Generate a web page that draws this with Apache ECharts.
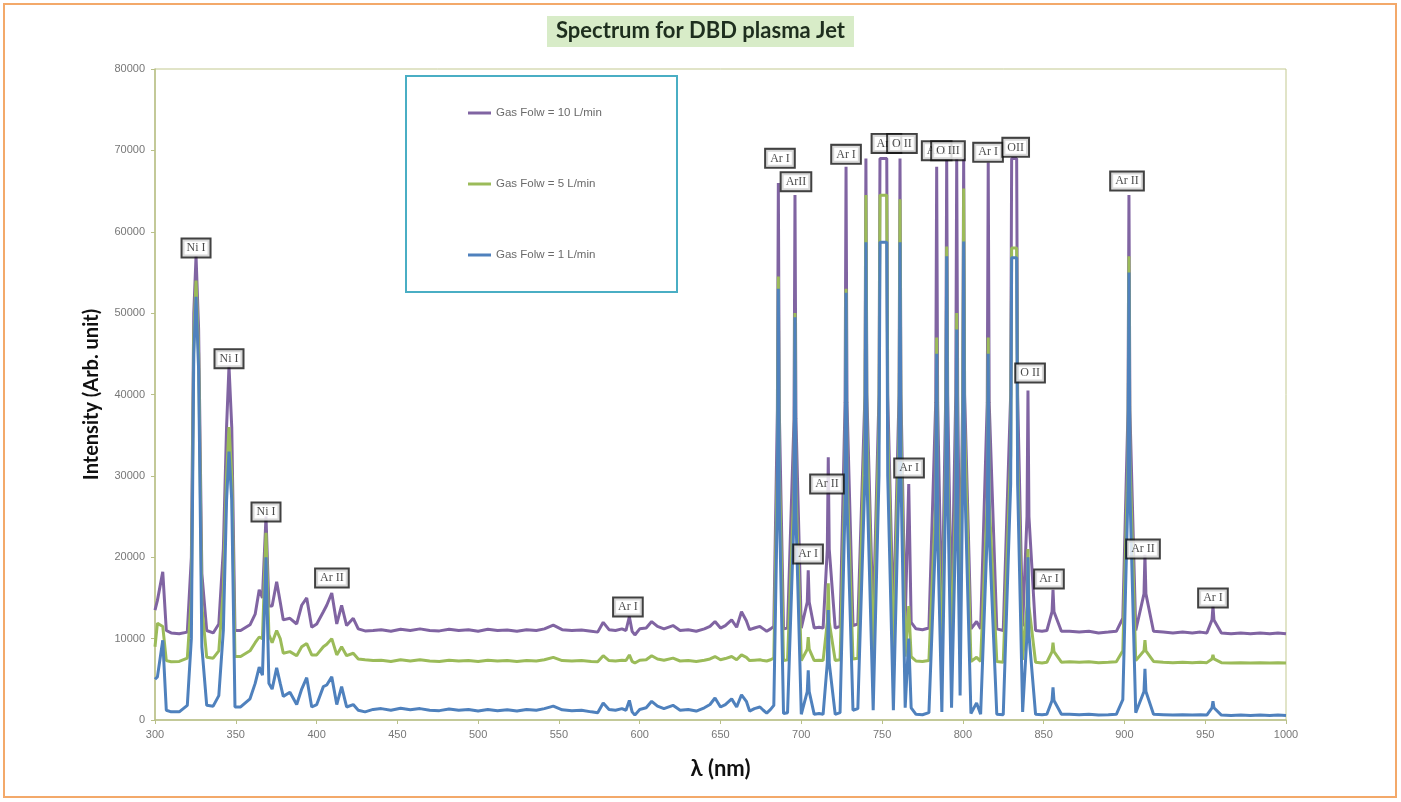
<!DOCTYPE html>
<html>
<head>
<meta charset="utf-8">
<script src="https://cdn.jsdelivr.net/npm/echarts@6/dist/echarts.min.js"></script>
<style>html,body{margin:0;padding:0;background:#fff;}#c{width:1401px;height:802px;}</style>
</head>
<body>
<div id="c"></div>
<script>
// Wavelength samples (nm)
const wl = [
300,301.5,304.8,307,310,315,320,322.5,324,325.4,327,329,332,336,339.5,342.3,344.3,345.8,347.5,349.5,353,358.8,362,364.5,366.5,368.7,370.5,372.5,375.3,377.5,379.4,383.5,387.7,390.8,393.9,397,400.1,404.2,406.3,409.4,412.5,415.5,418.6,422.7,425.8,430,
435,440,446,452,458,464,470,476,482,488,494,500,506,512,518,524,530,536,541,546.5,552,558,564,570,574,577.4,581,585,589,591.5,593.6,595.3,597,600,604,607.4,611,615,620.6,625,630,635,640,643.5,646.6,650,653,656.9,660,663,666,668,671,674.4,676.5,678.6,681,
683,685.2,685.8,686.4,689,691.5,695.5,696.1,696.7,700,703.7,704.3,704.9,708,711,713.5,716.1,716.7,717.3,721,724,727.1,727.7,728.3,732,735,739.4,740,740.6,744.5,748.1,748.7,752.9,753.5,757,760.5,761.1,761.7,764.3,766.5,768,771,775,779,783.2,783.8,784.4,787,789.4,790,790.6,793,795.6,796.2,796.8,798.3,799.9,800.5,801.1,805,808.5,811,815.1,815.7,816.3,821,825,829.6,830.2,833.3,833.9,837,839.7,840.3,840.9,845,849,852,855.2,855.8,856.4,861,
866,872,878,884,890,895,899,902.2,902.8,903.4,907,912.1,912.7,913.3,918,924,930,936,942,947,951,954.2,954.8,955.4,960,966,972,978,984,990,995,1000
];
// Gas flow = 10 L/min
const flow10 = [
13500,14700,18200,11000,10700,10600,10800,20000,50000,57000,48000,18000,11000,10700,11800,21000,36000,43500,36000,11000,11000,11700,13000,16000,15000,25000,14000,14000,17000,14500,12300,12500,11800,14100,15000,11400,11800,13300,14100,15600,11800,14100,11600,12500,11200,10950,
11000,11100,10900,11150,11000,11200,11000,10950,11150,11000,11100,10900,11150,11000,11050,10900,11100,11000,11200,11650,11100,11000,11050,10900,10800,12000,11100,11000,11200,11000,12700,10900,10450,11200,11300,12100,11500,11200,11600,11000,11100,10900,11200,11500,12100,11300,11600,12300,11400,13300,12200,11100,11300,11500,11200,10900,11200,
11500,38000,66000,38000,11200,11300,37000,64500,37000,11300,14500,18400,14500,11300,11400,11300,21000,32300,21000,11300,11500,39000,68000,39000,11600,11800,40000,69000,40000,11800,40000,69000,69000,40000,11800,40000,69000,40000,12000,29000,12000,11200,11100,11300,39000,68000,39000,11500,40000,69000,40000,12000,40000,69000,40000,14000,40000,69000,40000,11200,12100,11200,39000,68500,39000,11200,11000,40000,69000,69000,40000,11500,25000,40500,25000,11000,10900,11000,13300,16000,13300,10900,
10900,10800,10900,10700,10800,10900,12500,38000,64500,38000,11000,15500,20300,15500,10900,10800,10700,10800,10700,10800,10700,12300,14000,12300,10700,10600,10700,10600,10700,10600,10700,10600
];
// Gas flow = 5 L/min
const flow5 = [
9000,11900,11500,7300,7160,7200,7600,15000,47000,54000,45000,14000,7700,7600,8500,16000,30000,36000,30000,7800,7800,8500,9500,10200,10000,23000,10500,9500,11000,10000,8200,8400,7900,9000,9400,8000,8000,9000,9300,10000,8000,9000,7900,8200,7500,7400,
7300,7350,7200,7400,7250,7400,7250,7200,7350,7250,7300,7200,7350,7250,7300,7200,7300,7250,7400,7700,7300,7250,7300,7200,7150,7900,7300,7250,7350,7300,8000,7200,7000,7350,7400,7900,7500,7350,7600,7250,7300,7200,7350,7500,7800,7400,7550,7800,7400,8000,7700,7300,7350,7400,7300,7250,7400,
7600,31000,54500,31000,7300,7400,28500,50000,28500,7300,8700,10200,8700,7300,7350,7300,12000,16800,12000,7300,7400,30000,53000,30000,7500,7600,36000,64500,36000,7600,36000,64500,64500,36000,7600,35500,64000,35500,7800,14000,7800,7250,7200,7300,27000,47000,27000,7500,32500,58200,32500,7800,28500,50000,28500,9500,36000,65300,36000,7200,7700,7200,27000,47000,27000,7200,7100,32500,58000,58000,32500,7400,14000,21000,14000,7100,7000,7100,8400,9500,8400,7100,
7150,7100,7150,7050,7100,7150,8500,32000,57000,32000,7300,8500,9800,8500,7200,7100,7050,7100,7050,7100,7050,7500,8000,7500,7050,7000,7050,7000,7050,7000,7050,7000
];
// Gas flow = 1 L/min
const flow1 = [
5000,5300,9800,1200,1000,1000,1800,10000,45000,52000,43000,9000,1800,1700,3000,11000,27000,33000,27000,1600,1600,2600,4500,6500,5500,20000,4500,3800,6400,4500,2900,3400,1900,3800,5200,1600,1900,4100,4300,5300,1900,4100,1600,1900,1200,1000,
1300,1400,1200,1450,1250,1400,1200,1150,1350,1200,1300,1100,1300,1150,1250,1100,1300,1200,1400,1700,1250,1150,1200,1000,900,2100,1300,1200,1400,1200,2400,1000,600,1300,1500,2300,1700,1400,1800,1200,1300,1100,1500,1900,2700,1600,1900,2600,1600,3100,2300,1100,1400,1600,1200,850,1300,
1800,27000,53000,27000,800,900,25000,49500,25000,700,3500,6100,3500,700,800,700,7000,13500,7000,700,900,26500,52500,26500,1200,1400,30000,58700,30000,1200,30000,58700,58700,30000,1200,30000,58700,30000,1500,10000,1500,700,650,900,23000,45000,23000,1000,29000,57000,29000,1500,24500,48000,24500,3000,30000,58800,30000,800,2100,700,23000,45000,23000,700,650,29000,56800,56800,29000,1000,10500,20000,10500,700,650,700,2400,4000,2400,700,
700,650,700,600,650,700,2500,28000,55000,28000,900,3500,6300,3500,700,650,600,650,600,650,600,1500,2300,1500,600,550,600,550,600,550,600,550
];
// Line identification labels: [wavelength, intensity position, text]
const lineLabels = [
[325.4,58000,'Ni I'],[345.8,44400,'Ni I'],[368.7,25560,'Ni I'],[409.5,17450,'Ar II'],
[592.7,13890,'Ar I'],[686.8,69020,'Ar I'],[696.7,66150,'ArII'],[704.2,20400,'Ar I'],
[715.9,29000,'Ar II'],[727.7,69510,'Ar I'],[752.7,70860,'Ar I'],[762.3,70860,'O II'],
[766.7,30970,'Ar I'],[783.8,69960,'Ar I'],[790.8,69960,'O III'],[815.6,69760,'Ar I'],
[832.7,70370,'OII'],[841.6,42640,'O II'],[853.3,17330,'Ar I'],[901.6,66230,'Ar II'],
[911.5,21010,'Ar II'],[954.8,14990,'Ar I']
];
const seriesNames = ['Gas Folw = 10 L/min','Gas Folw = 5 L/min','Gas Folw = 1 L/min'];
const xTicks = {min:300,max:1000,step:50};
const yTicks = {min:0,max:80000,step:10000};

const chart = echarts.init(document.getElementById('c'));
const mk = arr => wl.map((x,i)=>[x,arr[i]]);
const lineSeries = (name,arr,color) => ({
  name, type:'line', data:mk(arr), showSymbol:false, symbol:'none',
  lineStyle:{color,width:3}, itemStyle:{color}, silent:true, animation:false
});
chart.setOption({
  animation:false,
  backgroundColor:'#ffffff',
  title:{
    text:'Spectrum for DBD plasma Jet', left:'center', top:16,
    backgroundColor:'#d8ecc8', padding:[4,9,5,9],
    textStyle:{fontFamily:'Lato',fontWeight:'bold',fontSize:22,color:'#1e2e1e'}
  },
  graphic:[
    {type:'rect',shape:{x:4,y:4,width:1392,height:793},style:{fill:'none',stroke:'#f3a96a',lineWidth:2},z:0},
    {type:'rect',shape:{x:406,y:76,width:271,height:216},style:{fill:'#ffffff',stroke:'#4aaec4',lineWidth:2},z:1}
  ],
  legend:{
    data:seriesNames, orient:'vertical', left:463, top:102, itemGap:59,
    icon:'rect', itemWidth:23, itemHeight:3, itemGap:59, z:5,
    textStyle:{fontFamily:'Liberation Sans',fontSize:11.5,color:'#6a6a6a',lineHeight:12}
  },
  grid:{left:155,right:115,top:69,bottom:82,show:true,borderColor:'#c3c990',borderWidth:1},
  xAxis:{
    type:'value', min:xTicks.min, max:xTicks.max, interval:xTicks.step,
    name:'λ (nm)', nameLocation:'middle', nameGap:38,
    nameTextStyle:{fontFamily:'Lato',fontWeight:'bold',fontSize:22,color:'#111'},
    axisLine:{lineStyle:{color:'#b9c089',width:1.5}},
    axisTick:{show:true,length:4,lineStyle:{color:'#b9c089'}},
    axisLabel:{fontFamily:'Liberation Sans',fontSize:11,color:'#777',margin:9,formatter:v=>String(v)},
    splitLine:{show:false}
  },
  yAxis:{
    type:'value', min:yTicks.min, max:yTicks.max, interval:yTicks.step,
    name:'Intensity (Arb. unit)', nameLocation:'middle', nameGap:53, nameRotate:90,
    nameTextStyle:{fontFamily:'Lato',fontWeight:'bold',fontSize:20,color:'#111'},
    axisLine:{show:true,lineStyle:{color:'#b9c089',width:1.5}},
    axisTick:{show:true,length:4,lineStyle:{color:'#b9c089'}},
    axisLabel:{fontFamily:'Liberation Sans',fontSize:11,color:'#777',margin:10,formatter:v=>String(v)},
    splitLine:{show:false}
  },
  series:[
    lineSeries(seriesNames[0],flow10,'#8064a2'),
    lineSeries(seriesNames[1],flow5,'#9bbb59'),
    lineSeries(seriesNames[2],flow1,'#4f81bd'),
    {
      type:'scatter', data:lineLabels.map(d=>({value:[d[0],d[1]],name:d[2]})),
      symbol:'rect', symbolSize:1, itemStyle:{color:'rgba(0,0,0,0)'}, silent:true, z:10,
      label:{show:true, position:'inside', formatter:p=>p.name,
        fontFamily:'Liberation Serif', fontSize:12, color:'#1a1a1a',
        backgroundColor:'#ffffff', borderColor:'#111', borderWidth:2,
        padding:[3,4,2,4]},
      labelLayout:{hideOverlap:false}
    }
  ]
});
</script>
</body>
</html>
